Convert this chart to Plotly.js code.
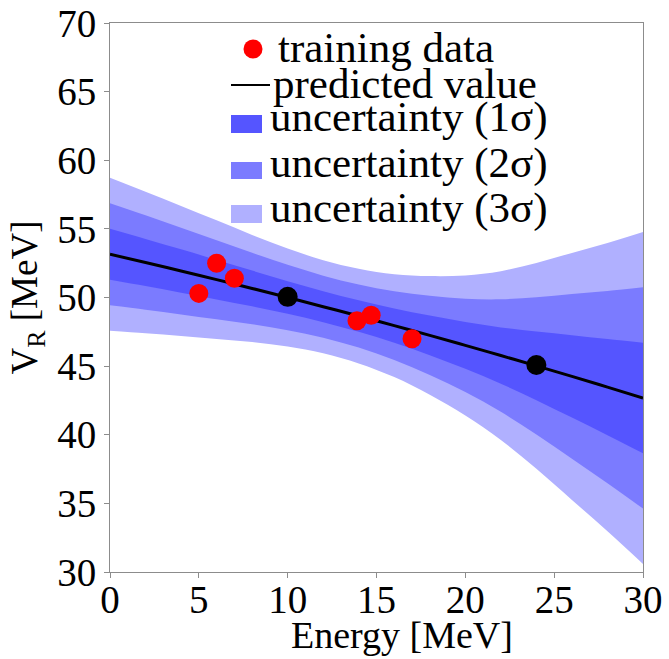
<!DOCTYPE html>
<html><head><meta charset="utf-8">
<script src="https://cdn.plot.ly/plotly-3.0.1.min.js"></script>
<style>html,body{margin:0;padding:0;background:#fff}</style>
</head><body><div id="chart" style="width:669px;height:659px"></div>
<script>
// ---- data ----
const energyGrid = [0, 2, 4, 6, 8, 10, 12, 14, 16, 18, 20, 22, 24, 26, 28, 30];
const predicted  = [53.15, 52.55, 51.93, 51.30, 50.66, 50.00, 49.33, 48.65, 47.95, 47.24, 46.51, 45.77, 45.02, 44.25, 43.47, 42.68];
const upper1 = [55.01, 54.27, 53.51, 52.74, 51.96, 51.19, 50.46, 49.80, 49.20, 48.68, 48.21, 47.82, 47.52, 47.25, 46.97, 46.71];
const lower1 = [51.29, 50.83, 50.35, 49.86, 49.36, 48.81, 48.20, 47.50, 46.70, 45.80, 44.81, 43.72, 42.52, 41.25, 39.97, 38.65];
const upper2 = [56.87, 55.99, 55.09, 54.18, 53.26, 52.38, 51.59, 50.95, 50.45, 50.12, 49.91, 49.87, 50.02, 50.25, 50.47, 50.74];
const lower2 = [49.43, 49.11, 48.77, 48.42, 48.06, 47.62, 47.07, 46.35, 45.45, 44.36, 43.11, 41.67, 40.02, 38.25, 36.47, 34.62];
const upper3 = [58.73, 57.71, 56.67, 55.62, 54.56, 53.57, 52.72, 52.10, 51.70, 51.56, 51.61, 51.92, 52.52, 53.25, 53.97, 54.77];
const lower3 = [47.57, 47.39, 47.19, 46.98, 46.76, 46.43, 45.94, 45.20, 44.20, 42.92, 41.41, 39.62, 37.52, 35.25, 32.97, 30.59];
const trainE = [5, 6, 7, 13.9, 14.7, 17];
const trainV = [50.3, 52.5, 51.4, 48.3, 48.7, 47.0];
const testE  = [10, 24];
const testV  = [50.05, 45.08];
const xTicks = [0, 5, 10, 15, 20, 25, 30];
const yTicks = [30, 35, 40, 45, 50, 55, 60, 65, 70];
const legendLabels = ['training data', 'predicted value', 'uncertainty (1σ)', 'uncertainty (2σ)', 'uncertainty (3σ)'];
const xTitle = 'Energy [MeV]';
const yTitle = 'V<sub>R</sub> [MeV]';

// ---- styling ----
const FONT = 'Liberation Serif';
const C1 = '#5555FF', C2 = '#7B7BFF', C3 = '#B0B0FF';
const W = 669, H = 659, ML = 110, MR = 26, MT = 23, MB = 87;
const PW = W - ML - MR, PH = H - MT - MB;
const px = v => (v - ML) / PW;
const py = v => (H - MB - v) / PH;

function edge(y, fill, color, name) {
  return {x: energyGrid, y: y, mode: 'lines', line: {width: 0, shape: 'spline', color: color || 'rgba(0,0,0,0)'},
          fill: fill || 'none', fillcolor: color, showlegend: false, hoverinfo: 'skip', name: name || 'edge'};
}

const traces = [
  edge(lower3), edge(upper3, 'tonexty', C3, legendLabels[4]),
  edge(lower2), edge(upper2, 'tonexty', C2, legendLabels[3]),
  edge(lower1), edge(upper1, 'tonexty', C1, legendLabels[2]),
  {x: energyGrid, y: predicted, mode: 'lines', line: {color: '#000', width: 3, shape: 'spline'}, name: legendLabels[1], showlegend: false},
  {x: trainE, y: trainV, mode: 'markers', marker: {color: '#FF0000', size: 19}, name: legendLabels[0], showlegend: false},
  {x: testE, y: testV, mode: 'markers', marker: {color: '#000000', size: 20}, name: 'test', showlegend: false}
];

// manual legend (swatches + labels) placed in paper coordinates
const LFS = 43;
const legendRows = [
  {label: legendLabels[0], tx: 276, cy: 48},
  {label: legendLabels[1], tx: 271, cy: 83},
  {label: legendLabels[2], tx: 268, cy: 117},
  {label: legendLabels[3], tx: 268, cy: 163},
  {label: legendLabels[4], tx: 268, cy: 208}
];
const annotations = legendRows.map(r => ({
  xref: 'paper', yref: 'paper', x: px(r.tx), y: py(r.cy), xanchor: 'left', yanchor: 'middle',
  text: r.label, showarrow: false, font: {family: FONT, size: LFS, color: '#000'}
}));
annotations.push({
  xref: 'paper', yref: 'paper', x: px(402), y: py(635), xanchor: 'center', yanchor: 'middle',
  text: xTitle, showarrow: false, font: {family: FONT, size: 38, color: '#000'}
});
const shapes = [
  {type: 'circle', xref: 'paper', yref: 'paper', x0: px(243.5), x1: px(262.5), y0: py(58.5), y1: py(39.5),
   fillcolor: '#FF0000', line: {width: 0}, layer: 'above'},
  {type: 'line', xref: 'paper', yref: 'paper', x0: px(231), x1: px(270), y0: py(85), y1: py(85),
   line: {color: '#000', width: 2}, layer: 'above'},
  {type: 'rect', xref: 'paper', yref: 'paper', x0: px(231), x1: px(262), y0: py(133), y1: py(115),
   fillcolor: C1, line: {width: 0}, layer: 'above'},
  {type: 'rect', xref: 'paper', yref: 'paper', x0: px(231), x1: px(262), y0: py(179), y1: py(162),
   fillcolor: C2, line: {width: 0}, layer: 'above'},
  {type: 'rect', xref: 'paper', yref: 'paper', x0: px(231), x1: px(262), y0: py(223), y1: py(205),
   fillcolor: C3, line: {width: 0}, layer: 'above'}
];

const axisCommon = {
  showgrid: false, zeroline: false, showline: true, mirror: true, linecolor: '#8c8c8c', linewidth: 1,
  ticks: 'outside', ticklen: 5, tickwidth: 1, tickcolor: '#8c8c8c',
  tickfont: {family: FONT, size: 39, color: '#000'}
};

const layout = {
  width: W, height: H, margin: {l: ML, r: MR, t: MT, b: MB},
  paper_bgcolor: '#fff', plot_bgcolor: '#fff', showlegend: false,
  font: {family: FONT, color: '#000'},
  xaxis: Object.assign({}, axisCommon, {range: [0, 30], tickvals: xTicks, ticktext: xTicks.map(String),
    ticklabelstandoff: -12}),
  yaxis: Object.assign({}, axisCommon, {range: [30, 70], tickvals: yTicks, ticktext: yTicks.map(String),
    title: {text: yTitle, font: {family: FONT, size: 37, color: '#000'}, standoff: 8}}),
  annotations: annotations,
  shapes: shapes
};

Plotly.newPlot('chart', traces, layout, {staticPlot: true, displayModeBar: false});
</script></body></html>
